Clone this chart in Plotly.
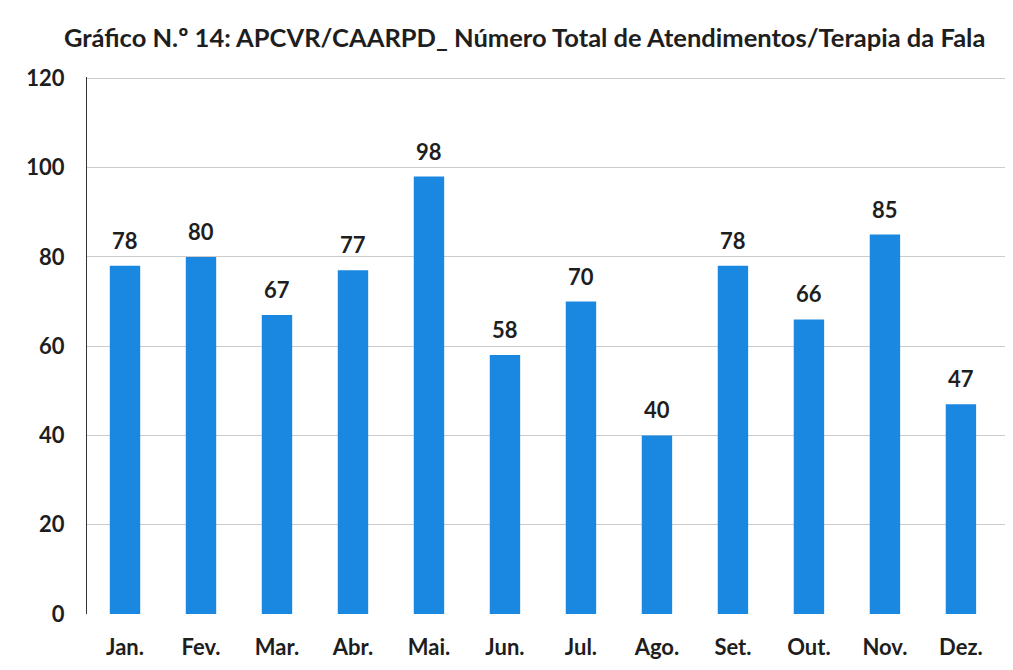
import plotly.graph_objects as go

months = ["Jan.", "Fev.", "Mar.", "Abr.", "Mai.", "Jun.", "Jul.", "Ago.", "Set.", "Out.", "Nov.", "Dez."]
values = [78, 80, 67, 77, 98, 58, 70, 40, 78, 66, 85, 47]
y_ticks = [0, 20, 40, 60, 80, 100, 120]

FONT = "Lato, Open Sans, sans-serif"

fig = go.Figure()
fig.add_trace(go.Bar(
    x=months, y=values,
    marker=dict(color="#1A87E0", line=dict(width=0)),
    width=0.4,
))

for m, v in zip(months, values):
    fig.add_annotation(
        x=m, y=v, text="<b>%d</b>" % v, showarrow=False,
        yanchor="bottom", yshift=10,
        font=dict(family=FONT, size=22, color="#1e1e1e"),
    )

fig.update_layout(
    width=1013, height=670,
    paper_bgcolor="white", plot_bgcolor="white",
    margin=dict(l=79, r=16, t=69, b=64),
    showlegend=False,
    title=dict(
        text="<b>Gráfico N.º 14: APCVR/CAARPD_ Número Total de Atendimentos/Terapia da Fala</b>",
        x=0.51, xanchor="center", y=0.955, yanchor="middle",
        font=dict(family=FONT, size=25.5, color="#1e1e1e"),
    ),
    xaxis=dict(
        range=[-0.5, 11.58],
        tickfont=dict(family=FONT, size=22, color="#1e1e1e", weight="bold"),
        showgrid=False, showline=False, ticks="",
        ticklabelstandoff=18,
    ),
    yaxis=dict(
        range=[0, 120.3], tickvals=y_ticks,
        tickfont=dict(family=FONT, size=22, color="#1e1e1e", weight="bold"),
        showgrid=True, gridcolor="#cccccc", gridwidth=1,
        zeroline=False, showline=True, linecolor="#333333", linewidth=1,
        ticks="", ticklabelstandoff=17,
    ),
)

fig.write_html("out.html")
